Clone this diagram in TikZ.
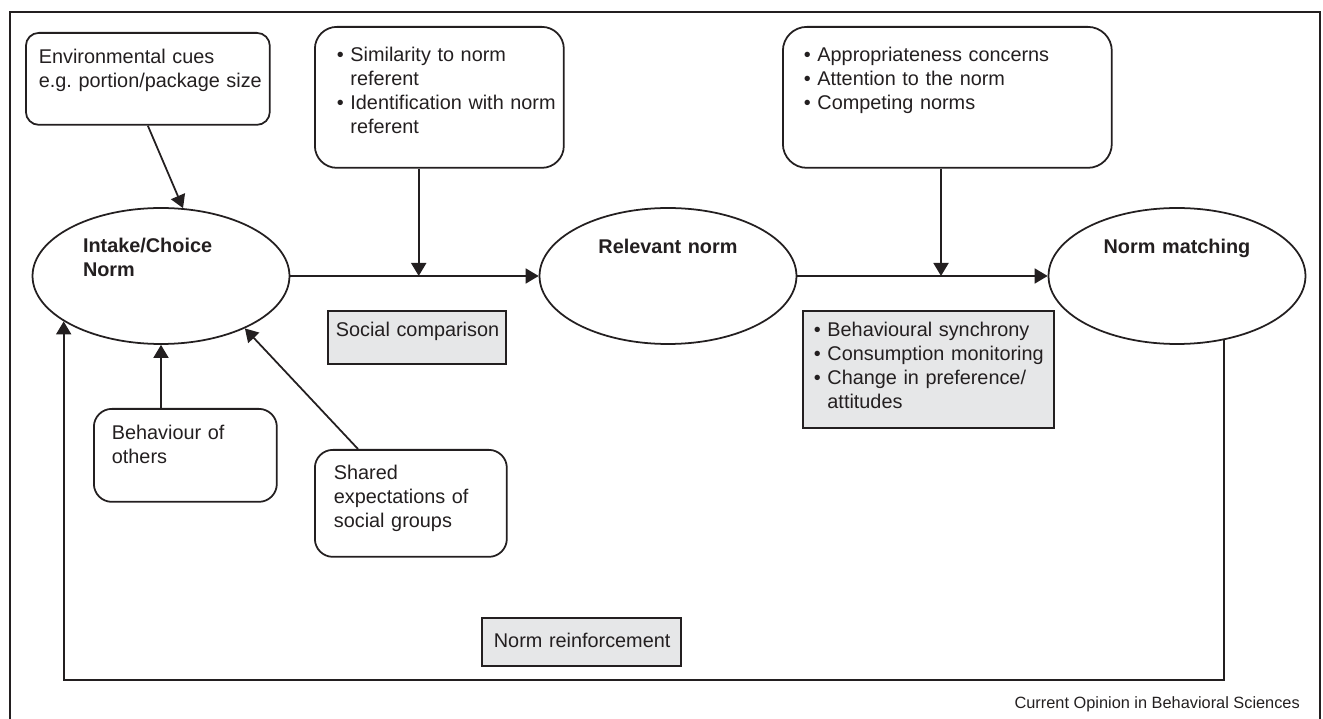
\documentclass[tikz,border=0pt]{standalone}
\usepackage{fontspec}
\setmainfont{Liberation Sans}
\usetikzlibrary{arrows.meta, shapes.geometric, calc}
\definecolor{lineDark}{HTML}{231F20}
\definecolor{boxGray}{HTML}{E6E7E8}
\newcommand{\bodyfont}{\fontsize{11.3}{13.66}\selectfont}
\newcommand{\bgap}{\leavevmode\hphantom{\textbullet\ }}

\begin{document}
\begin{tikzpicture}[x=0.02cm, y=-0.02cm,
    cue/.style={rectangle, rounded corners=#1, draw=lineDark, line width=1pt,
                anchor=north west, inner sep=0pt, align=left,
                font=\bodyfont, text=lineDark},
    cue/.default=0.36cm,
    proc/.style={rectangle, draw=lineDark, fill=boxGray, line width=1pt,
                 anchor=north west, inner sep=0pt, align=left,
                 font=\bodyfont, text=lineDark},
    norm/.style={ellipse, draw=lineDark, line width=1pt, inner sep=0pt,
                 minimum width=5.14cm, minimum height=2.72cm,
                 font=\bodyfont\bfseries, text=lineDark, text height=0.28cm},
    arr/.style={-{Triangle[length=0.26cm, width=0.3cm]}, draw=lineDark,
                line width=1pt},
  ]
    \useasboundingbox (0,0) rectangle (1323,719);
    \draw[lineDark, line width=1pt] (10,719) -- (10,12) -- (1320,12) -- (1320,719);

    \node[norm, align=left, text width=3.12cm, text depth=1.24cm] (intake) at (161,276)
      {Intake/Choice\\Norm};
    \node[norm, align=center, text width=3.4cm, text depth=1.2cm] (rel) at (668,276)
      {Relevant norm};
    \node[norm, align=center, text width=3.4cm, text depth=1.2cm] (match) at (1177,276)
      {Norm matching};

    \node[cue=0.26cm, text width=4.88cm, text height=0.62cm, text depth=1.22cm] (env) at (25,32)
      {\leftskip=0.26cm Environmental cues\\e.g.\ portion/package size\par};
    \node[cue=0.44cm, text width=4.98cm, text height=0.70cm, text depth=2.12cm] (sim) at (314,26)
      {\leftskip=0.44cm \textbullet\ Similarity to norm\\\bgap referent\\
       \textbullet\ Identification with norm\\\bgap referent\par};
    \node[cue=0.48cm, text width=6.58cm, text height=0.70cm, text depth=2.12cm] (appr) at (782,26)
      {\leftskip=0.42cm \textbullet\ Appropriateness concerns\\
       \textbullet\ Attention to the norm\\\textbullet\ Competing norms\par};
    \node[cue, text width=3.66cm, text height=0.62cm, text depth=1.24cm] (others) at (93,408)
      {\leftskip=0.36cm Behaviour of\\others\par};
    \node[cue, text width=3.84cm, text height=0.60cm, text depth=1.54cm] (shared) at (314,449)
      {\leftskip=0.38cm Shared\\expectations of\\social groups\par};

    \node[proc, text width=3.56cm, text height=0.52cm, text depth=0.54cm] (soccomp) at (327,310)
      {\leftskip=0.16cm Social comparison\par};
    \node[proc, text width=5.02cm, text height=0.52cm, text depth=1.82cm] (mech) at (802,310)
      {\leftskip=0.22cm \textbullet\ Behavioural synchrony\\
       \textbullet\ Consumption monitoring\\\textbullet\ Change in preference/\\\bgap attitudes\par};
    \node[proc, text width=3.98cm, text height=0.60cm, text depth=0.36cm] (reinf) at (481,617)
      {\leftskip=0.24cm Norm reinforcement\par};

    \node[anchor=base east, font=\fontsize{9.3}{11}\selectfont, text=lineDark] (credit) at (1306,708)
      {Current Opinion in Behavioral Sciences};

    \path (intake.east) -- (rel.west) coordinate[pos=0.517] (join1);
    \path (rel.east) -- (match.west) coordinate[pos=0.574] (join2);
    \coordinate (loopline) at (0,680);

    \draw[arr] (intake.east) -- (rel.west);
    \draw[arr] (rel.east) -- (match.west);
    \draw[arr] (sim.south -| join1) -- (join1);
    \draw[arr] (appr.south -| join2) -- (join2);
    \draw[arr] (env.south) -- (intake.72);
    \draw[arr] (others.north -| intake.south) -- (intake.south);
    \draw[arr] ([xshift=0.88cm]shared.north west) -- (intake.-32);
    \draw[arr] (match.-54) |- (loopline -| intake.205) -- (intake.205);
  \end{tikzpicture}
\end{document}
